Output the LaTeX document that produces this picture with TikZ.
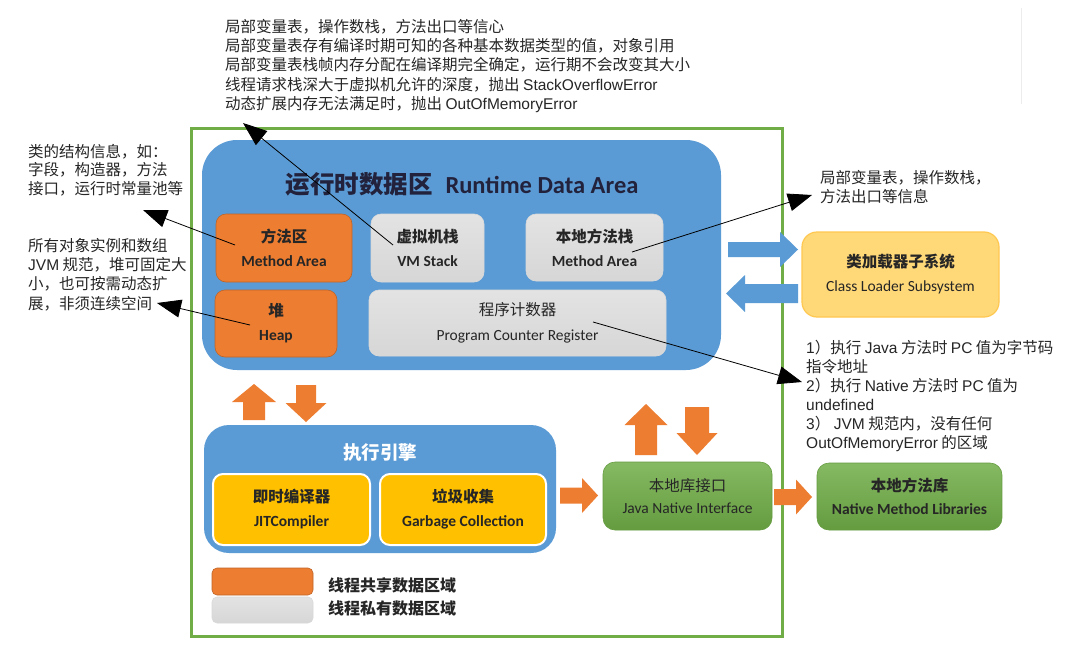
\documentclass[tikz,border=0pt]{standalone}
\usepackage{fontspec}
\setmainfont{Liberation Sans}
\newfontfamily\cjk{Noto Sans CJK SC}
\newfontfamily\carl{Carlito}
\usetikzlibrary{arrows.meta}
\definecolor{jvmblue}{RGB}{91,155,213}
\definecolor{jvmorange}{RGB}{237,125,49}
\definecolor{jvmyellow}{RGB}{255,192,0}
\definecolor{jvmgreen}{RGB}{112,173,71}
\definecolor{loaderfill}{RGB}{255,216,120}
\definecolor{loaderedge}{RGB}{255,200,80}
\definecolor{ink}{RGB}{38,38,38}
\tikzstyle{frame}=[draw=jvmgreen, line width=3pt, inner sep=0pt]
\tikzstyle{bluearea}=[fill=jvmblue, inner sep=0pt]
\tikzstyle{region}=[rounded corners=10pt, inner sep=0pt, align=center, text=ink, font=\fontsize{15.5}{24}\selectfont]
\tikzstyle{shared}=[region, fill=jvmorange, draw=jvmorange!80!black, line width=0.6pt]
\tikzstyle{private}=[region, top color=gray!22, bottom color=gray!32, draw=gray!30, line width=0.6pt]
\tikzstyle{engineunit}=[region, fill=jvmyellow, draw=white, line width=2pt]
\tikzstyle{nativebox}=[region, top color=jvmgreen!85!white, bottom color=jvmgreen!90!black, draw=jvmgreen!90!black, line width=0.6pt]
\tikzstyle{note}=[anchor=north west, inner sep=0pt, align=left, text=ink, font=\cjk\fontsize{15.5}{19.3}\selectfont]
\tikzstyle{callout}=[line width=0.8pt, -{Triangle[length=24pt,width=18pt]}]
\newcommand{\boxtext}[2]{{\cjk\bfseries #1}\\{\carl\bfseries #2}}
\newcommand{\latin}[1]{{\rmfamily #1}}
% colour, tail point, angle, length, shaft half, head half, head length
\newcommand{\fatarrow}[7]{\fill[#1, shift={#2}, rotate=#3] (0,-#5) -- ({#4-#7},-#5) -- ({#4-#7},-#6) -- (#4,0) -- ({#4-#7},#6) -- ({#4-#7},#5) -- (0,#5) -- cycle;}
\begin{document}
\begin{tikzpicture}[x=1pt,y=-1pt]
	\useasboundingbox (0,0) rectangle (1065,653);
	\fill[white] (0,0) rectangle (1065,653);
	\draw[gray!15, line width=1pt] (1021,8) -- (1021,104);
	%% the frame and the two blue areas
	\node[frame] (jvm) at (486.5,382) [minimum width=591pt, minimum height=508pt] {};
	\node[bluearea, rounded corners=35pt] (rda) at (461.5,255) [minimum width=519pt, minimum height=230pt] {};
	\node[bluearea, rounded corners=25pt] (engine) at (380,489) [minimum width=352pt, minimum height=128pt] {};
	\node[text=ink!90!blue, inner sep=0pt] (rdatitle) at (462,184) {{\cjk\bfseries\fontsize{24.5}{27}\selectfont 运行时数据区}\hspace{13pt}{\carl\bfseries\fontsize{24.5}{27}\selectfont Runtime Data Area}};
	\node[text=white, inner sep=0pt] (enginetitle) at (380,453) {\cjk\bfseries\fontsize{18.5}{22}\selectfont 执行引擎};
	%% the data areas
	\node[shared] (marea) at (284,248) [minimum width=136pt, minimum height=68pt] {\boxtext{方法区}{Method Area}};
	\node[private] (vmstack) at (427.5,248) [minimum width=113pt, minimum height=68pt] {\boxtext{虚拟机栈}{VM Stack}};
	\node[private] (nstack) at (594.5,247.5) [minimum width=137pt, minimum height=67pt] {\boxtext{本地方法栈}{Method Area}};
	\node[shared] (heap) at (276,323.5) [minimum width=122pt, minimum height=67pt] {\boxtext{堆}{Heap}};
	\node[private] (pcreg) at (517.5,323) [minimum width=297pt, minimum height=66pt, font=\fontsize{15.5}{25}\selectfont] {{\cjk 程序计数器}\\{\carl Program Counter Register}};
	%% the execution engine and the native side
	\node[engineunit] (jit) at (291.5,509.5) [minimum width=157pt, minimum height=71pt] {\boxtext{即时编译器}{JITCompiler}};
	\node[engineunit] (gc) at (463,509.5) [minimum width=166pt, minimum height=71pt] {\boxtext{垃圾收集}{Garbage Collection}};
	\node[region, rounded corners=15pt, fill=loaderfill, draw=loaderedge, line width=1.2pt] (loader) at (900.5,274.5) [minimum width=197pt, minimum height=85pt] {{\cjk\bfseries 类加载器子系统}\\{\carl Class Loader Subsystem}};
	\node[nativebox, rounded corners=12pt, font=\fontsize{15.5}{22}\selectfont] (jni) at (687.5,496) [minimum width=169pt, minimum height=68pt] {{\cjk 本地库接口}\\{\carl Java Native Interface}};
	\node[nativebox, rounded corners=12pt, font=\fontsize{15.5}{23}\selectfont] (nml) at (909.5,496.5) [minimum width=185pt, minimum height=67pt] {\boxtext{本地方法库}{Native Method Libraries}};
	%% the legend
	\node[shared, rounded corners=5pt] (keyshared) at (262.5,581.5) [minimum width=101pt, minimum height=27pt] {};
	\node[private, rounded corners=5pt] (keyprivate) at (262.5,610) [minimum width=101pt, minimum height=26pt] {};
	\node[anchor=west, inner sep=0pt, text=ink] (keysharedtext) at (328,585) {\cjk\bfseries\fontsize{16}{18}\selectfont 线程共享数据区域};
	\node[anchor=west, inner sep=0pt, text=ink] (keyprivatetext) at (328,608) {\cjk\bfseries\fontsize{16}{18}\selectfont 线程私有数据区域};
	%% the block arrows
	\fatarrow{jvmorange}{(254,420)}{90}{36}{11}{22}{18}
	\fatarrow{jvmorange}{(306,385)}{-90}{37}{10}{20.5}{19}
	\fatarrow{jvmorange}{(646,455)}{90}{51}{11}{21.5}{21}
	\fatarrow{jvmorange}{(697,407)}{-90}{48}{12}{20.5}{22}
	\fatarrow{jvmorange}{(560,495.5)}{0}{38}{8}{17.5}{16}
	\fatarrow{jvmorange}{(774,497)}{0}{38}{8}{17.5}{16}
	\fatarrow{jvmblue}{(728,249.5)}{0}{70}{7.5}{17.5}{18}
	\fatarrow{jvmblue}{(798,293.5)}{180}{72}{9.5}{18.5}{19}
	%% the notes
	\node[note] (vmnote) at (225,19) {局部变量表，操作数栈，方法出口等信心\\
		局部变量表存有编译时期可知的各种基本数据类型的值，对象引用\\
		局部变量表栈帧内存分配在编译期完全确定，运行期不会改变其大小\\
		线程请求栈深大于虚拟机允许的深度，抛出 \latin{StackOverflowError}\\
		动态扩展内存无法满足时，抛出 \latin{OutOfMemoryError}};
	\node[note, font=\cjk\fontsize{15.5}{18.5}\selectfont] (manote) at (28,144) {类的结构信息，如：\\字段，构造器，方法\\接口，运行时常量池等};
	\node[note] (heapnote) at (28,238) {所有对象实例和数组\\\latin{JVM} 规范，堆可固定大\\小，也可按需动态扩\\展，非须连续空间};
	\node[note] (nsnote) at (820,170) {局部变量表，操作数栈，\\方法出口等信息};
	\node[note, font=\cjk\fontsize{15.5}{19}\selectfont] (pcnote) at (806,340) {\latin{1}）执行 \latin{Java} 方法时 \latin{PC} 值为字节码\\
		指令地址\\
		\latin{2}）执行 \latin{Native} 方法时 \latin{PC} 值为\\
		\latin{undefined}\\
		\latin{3}） \latin{JVM} 规范内，没有任何\\
		\latin{OutOfMemoryError} 的区域};
	%% the callouts
	\coordinate (vmfoot) at (393,245);
	\coordinate (vmtip) at (243,123);
	\coordinate (mafoot) at (235,245);
	\coordinate (matip) at (143,210);
	\coordinate (heapfoot) at (250,325);
	\coordinate (heaptip) at (157,303);
	\coordinate (nsfoot) at (632,252);
	\coordinate (nstip) at (812,195);
	\coordinate (pcfoot) at (593,322);
	\coordinate (pctip) at (802,382);
	\path[callout]
		(vmfoot) edge (vmtip)
		(mafoot) edge (matip)
		(heapfoot) edge (heaptip)
		(nsfoot) edge (nstip)
		(pcfoot) edge (pctip)
		;
\end{tikzpicture}
\end{document}
